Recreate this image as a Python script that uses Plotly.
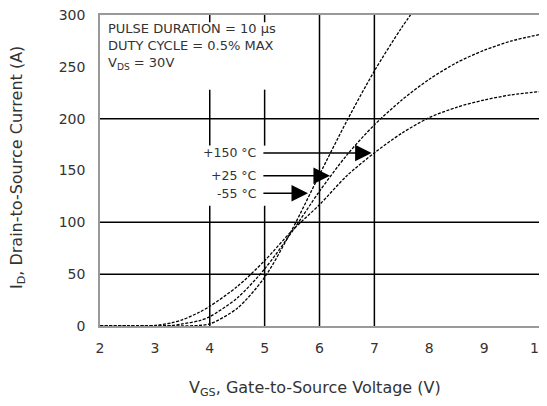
import plotly.graph_objects as go

# Data
vgs = [2.0, 2.5, 2.8, 3.0, 3.3, 3.5, 3.8, 4.0, 4.5, 5.0, 5.5, 6.0, 6.5, 7.0, 7.5, 8.0, 8.5, 9.0, 9.5, 10.0]
id_m55 = [0, 0, 0, 0, 0, 0, 0.5, 2, 17, 47, 93, 146, 198, 246, 288, 325, None, None, None, None]
id_25 = [0, 0, 0, 0, 0.5, 2, 5, 9, 27, 55, 91, 130, 165, 194, 218, 238, 254, 266, 275, 281]
id_150 = [0, 0, 0, 0.5, 3, 6, 13, 19, 38, 63, 92, 117, 145, 167, 186, 201, 211, 218, 223, 226]

x_ticks = [2, 3, 4, 5, 6, 7, 8, 9, 10]
y_ticks = [0, 50, 100, 150, 200, 250, 300]

temp_labels = ["+150 °C", "+25 °C", "-55 °C"]
arrow_tips_x = [6.95, 6.19, 5.79]
arrow_tips_y = [167, 145, 128]

FONT = "DejaVu Sans, Verdana, sans-serif"
TXT = "#333333"

fig = go.Figure()
for ys in (id_m55, id_25, id_150):
    fig.add_trace(go.Scatter(
        x=vgs, y=ys, mode="lines",
        line=dict(color="black", width=1.3, dash="3px,1.5px", shape="spline", smoothing=0.8),
        showlegend=False, hoverinfo="skip", connectgaps=False))

shapes = []
line_style = dict(color="black", width=1.5)
for yv in (50, 100, 200):
    shapes.append(dict(type="line", xref="x", yref="y", x0=2, x1=10, y0=yv, y1=yv, line=line_style, layer="below"))
for xv in (6, 7):
    shapes.append(dict(type="line", xref="x", yref="y", x0=xv, x1=xv, y0=0, y1=300, line=line_style, layer="below"))
for xv in (4, 5):
    shapes.append(dict(type="line", xref="x", yref="y", x0=xv, x1=xv, y0=0, y1=116, line=line_style, layer="below"))
    shapes.append(dict(type="line", xref="x", yref="y", x0=xv, x1=xv, y0=174, y1=228, line=line_style, layer="below"))
    shapes.append(dict(type="line", xref="x", yref="y", x0=xv, x1=xv, y0=293, y1=300, line=line_style, layer="below"))

annotations = []
annotations.append(dict(
    xref="paper", yref="paper", x=0.014, y=0.988, xanchor="left", yanchor="top", align="left",
    showarrow=False, font=dict(family=FONT, size=13, color=TXT),
    text="PULSE DURATION = 10 µs<br>DUTY CYCLE = 0.5% MAX<br>V<sub>DS</sub> = 30V"))
label_y = [167, 145, 128]
for lab, tx, ty, ly in zip(temp_labels, arrow_tips_x, arrow_tips_y, label_y):
    annotations.append(dict(xref="x", yref="y", x=4.9, y=ly, xanchor="right", yanchor="middle",
                            showarrow=False, text=lab, font=dict(family=FONT, size=12.5, color=TXT)))
    annotations.append(dict(xref="x", yref="y", x=tx, y=ty, ax=4.95, ay=ty, axref="x", ayref="y",
                            text="", showarrow=True, arrowhead=2, arrowsize=2.2, arrowwidth=1.5,
                            arrowcolor="black"))
annotations.append(dict(xref="paper", yref="paper", x=0.49, y=-0.2, xanchor="center", yanchor="middle",
                        showarrow=False, font=dict(family=FONT, size=16, color=TXT),
                        text="V<sub>GS</sub>, Gate-to-Source Voltage (V)"))
annotations.append(dict(xref="paper", yref="paper", x=-0.189, y=0.508, xanchor="center", yanchor="middle",
                        showarrow=False, textangle=-90, font=dict(family=FONT, size=16, color=TXT),
                        text="I<sub>D</sub>, Drain-to-Source Current (A)"))

fig.update_layout(
    template=None,
    width=547, height=406,
    margin=dict(l=92, r=16, t=7, b=88, autoexpand=False),
    paper_bgcolor="white", plot_bgcolor="white",
    font=dict(family=FONT, size=14, color=TXT),
    shapes=shapes, annotations=annotations,
    xaxis=dict(range=[2, 10], tickvals=x_ticks, ticks="", showgrid=False, zeroline=False,
               showline=True, linecolor="#999999", linewidth=1.5, mirror=True, automargin=False,
               ticklabeloverflow="allow",
               tickfont=dict(family=FONT, size=14, color=TXT), ticklabelstandoff=8),
    yaxis=dict(range=[0, 300], tickvals=y_ticks, ticks="", showgrid=False, zeroline=False,
               showline=True, linecolor="#999999", linewidth=1.5, mirror=True, automargin=False,
               ticklabeloverflow="allow",
               tickfont=dict(family=FONT, size=14, color=TXT), ticklabelstandoff=10),
)

fig.write_html("out.html")
